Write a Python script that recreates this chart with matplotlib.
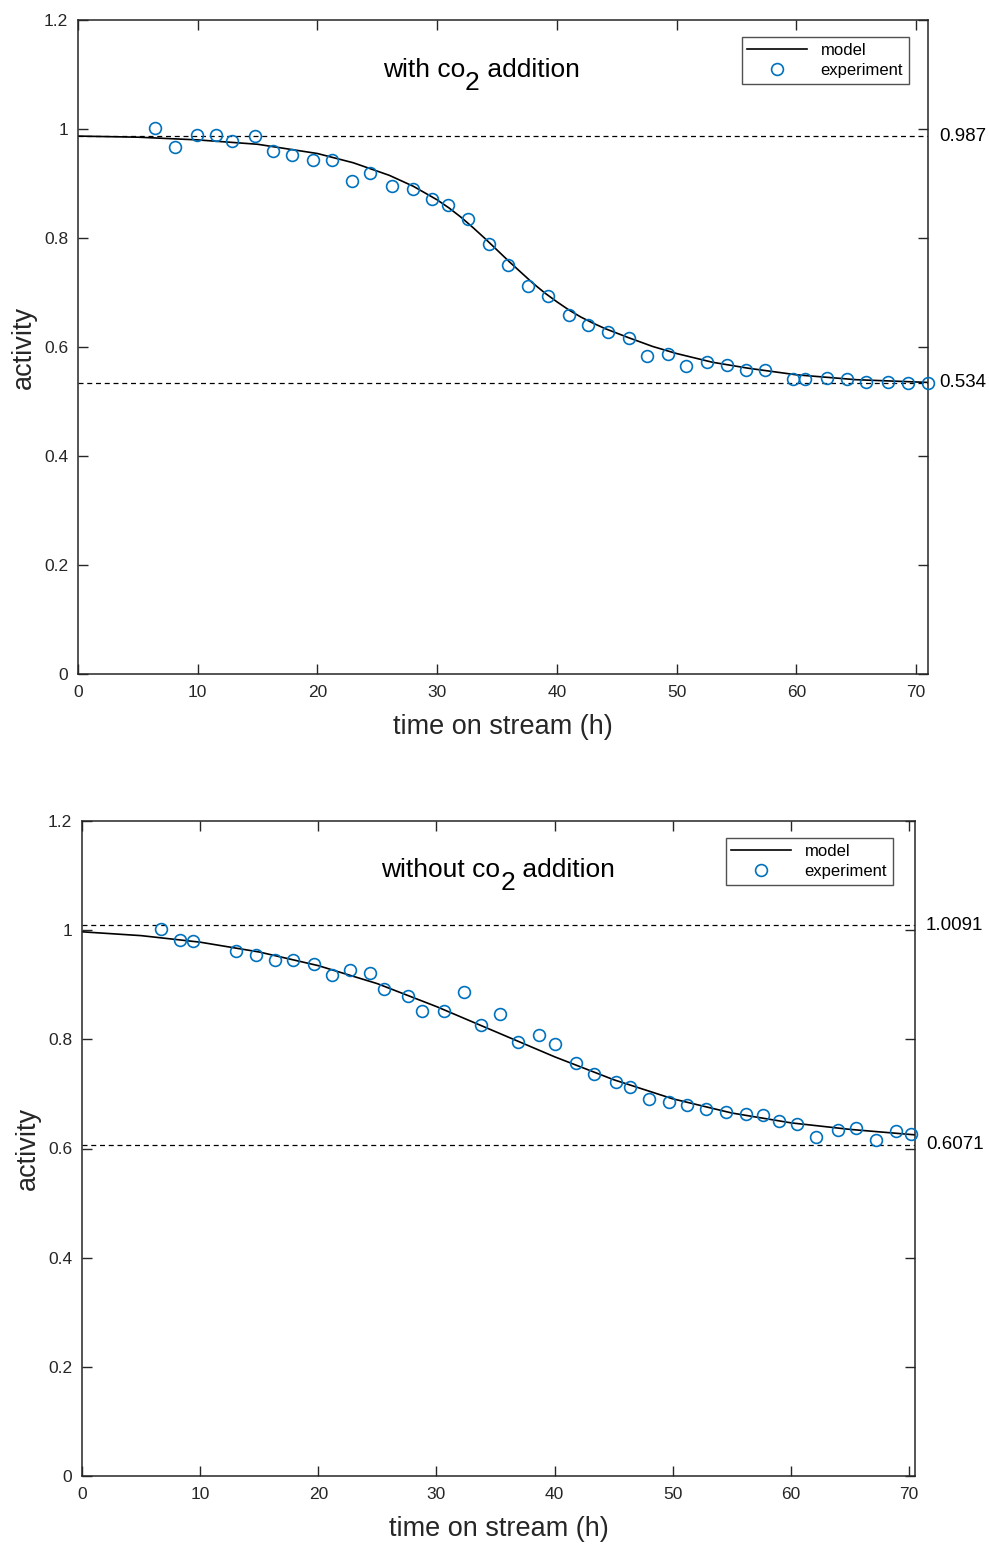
import numpy as np
import matplotlib
matplotlib.use('Agg')
import matplotlib.pyplot as plt
from matplotlib.transforms import offset_copy

plt.rcParams['font.family'] = ['Liberation Sans', 'DejaVu Sans']

BLUE = '#0072BD'
AXC = '#262626'

# with co2 addition
exp1_t = [6.4, 8.1, 9.9, 11.5, 12.9, 14.8, 16.3, 17.9, 19.6, 21.2, 22.9, 24.4, 26.2, 28.0,
          29.6, 30.9, 32.6, 34.3, 35.9, 37.6, 39.3, 41.0, 42.6, 44.3, 46.0, 47.5, 49.3, 50.8,
          52.5, 54.2, 55.8, 57.4, 59.7, 60.7, 62.6, 64.2, 65.8, 67.7, 69.3, 71.0]
exp1_a = [1.002, 0.967, 0.989, 0.989, 0.978, 0.987, 0.960, 0.952, 0.943, 0.943, 0.905, 0.919,
          0.895, 0.890, 0.872, 0.861, 0.835, 0.789, 0.750, 0.712, 0.694, 0.659, 0.640, 0.628,
          0.617, 0.583, 0.587, 0.565, 0.572, 0.567, 0.558, 0.558, 0.541, 0.541, 0.543, 0.541,
          0.536, 0.536, 0.534, 0.534]
model1_t = [0, 5, 10, 15, 20, 23, 26, 28, 30, 31, 32, 33, 34, 35, 36, 37, 38, 39, 40, 41, 42,
            43, 44, 46, 48, 50, 53, 56, 60, 65, 71]
model1_a = [0.987, 0.985, 0.980, 0.972, 0.955, 0.938, 0.915, 0.895, 0.870, 0.855, 0.838, 0.819,
            0.799, 0.778, 0.757, 0.737, 0.717, 0.699, 0.683, 0.668, 0.655, 0.644, 0.634, 0.617,
            0.601, 0.588, 0.572, 0.561, 0.549, 0.540, 0.535]
lim1 = [0.987, 0.534]

# without co2 addition
exp2_t = [6.7, 8.3, 9.4, 13.0, 14.7, 16.3, 17.9, 19.6, 21.2, 22.7, 24.4, 25.6, 27.6, 28.8,
          30.6, 32.3, 33.8, 35.4, 36.9, 38.7, 40.0, 41.8, 43.3, 45.2, 46.4, 48.0, 49.7, 51.2,
          52.8, 54.5, 56.2, 57.6, 59.0, 60.5, 62.1, 64.0, 65.5, 67.2, 68.9, 70.2]
exp2_a = [1.002, 0.982, 0.980, 0.962, 0.955, 0.945, 0.945, 0.938, 0.918, 0.927, 0.922, 0.892,
          0.879, 0.852, 0.852, 0.887, 0.826, 0.846, 0.795, 0.808, 0.791, 0.757, 0.737, 0.722,
          0.713, 0.691, 0.685, 0.680, 0.672, 0.667, 0.663, 0.661, 0.650, 0.645, 0.621, 0.634,
          0.638, 0.616, 0.632, 0.627]
model2_t = [0, 5, 10, 15, 20, 25, 30, 35, 40, 45, 50, 55, 60, 65, 70.5]
model2_a = [0.997, 0.990, 0.978, 0.960, 0.935, 0.902, 0.860, 0.814, 0.768, 0.726, 0.691,
            0.665, 0.647, 0.635, 0.625]
lim2 = [1.0091, 0.6071]

panels = [
    ([78, 20, 928, 674], 71.0, exp1_t, exp1_a, model1_t, model1_a, lim1,
     ['0.987', '0.534'], ('with co', '2', ' addition'), (481, 70), (909, 37)),
    ([82, 821, 915, 1476], 70.5, exp2_t, exp2_a, model2_t, model2_a, lim2,
     ['1.0091', '0.6071'], ('without co', '2', ' addition'), (498, 870), (893, 838)),
]

W, H = 989, 1544
fig = plt.figure(figsize=(W / 100, H / 100), dpi=100)


def sub_title(ax, parts, center, size=19):
    # MATLAB style subscript: full size digit, shifted down
    renderer = fig.canvas.get_renderer()
    widths = []
    for p in parts:
        t = fig.text(0, 0, p, fontsize=size)
        widths.append(t.get_window_extent(renderer).width)
        t.remove()
    x = center[0] - sum(widths) / 2
    y = H - center[1]
    drops = [0, -13, 0]
    for p, w, d in zip(parts, widths, drops):
        fig.text(x / W, (y + d) / H, p, fontsize=size, ha='left', va='center')
        x += w


for box, xmax, et, ea, mt, ma, lim, limlab, title, tpos, legpos in panels:
    x0, y0, x1, y1 = box
    ax = fig.add_axes([x0 / W, 1 - y1 / H, (x1 - x0) / W, (y1 - y0) / H])
    ax.plot(mt, ma, color='black', lw=1.2, label='model')
    ax.plot(et, ea, 'o', mfc='none', mec=BLUE, ms=8.5, mew=1.2, clip_on=False,
            label='experiment', zorder=3)
    for v, s in zip(lim, limlab):
        ax.axhline(v, color='black', lw=0.9, ls=(0, (4, 3)))
        ax.text(1.013, v, s, transform=ax.get_yaxis_transform(), ha='left',
                va='center', fontsize=13.5)
    ax.set_xlim(0, xmax)
    ax.set_ylim(0, 1.2)
    ax.set_xticks(np.arange(0, 71, 10))
    ax.set_yticks(np.arange(0, 1.21, 0.2))
    ax.set_yticklabels(['0', '0.2', '0.4', '0.6', '0.8', '1', '1.2'])
    ax.tick_params(direction='in', top=True, right=True, length=7, width=1,
                   labelsize=12.5, colors=AXC, labelcolor=AXC)
    ax.tick_params(axis='x', pad=8)
    ax.tick_params(axis='y', pad=7)
    for sp in ax.spines.values():
        sp.set_color(AXC)
        sp.set_linewidth(1.1)
    ax.set_xlabel('time on stream (h)', fontsize=19.5, color=AXC, labelpad=10)
    ax.set_ylabel('activity', fontsize=19.5, color=AXC, labelpad=5)
    sub_title(ax, title, tpos)
    leg = ax.legend(loc='upper right', bbox_to_anchor=(legpos[0] / W, 1 - legpos[1] / H),
                    bbox_transform=fig.transFigure, fontsize=12, frameon=True,
                    fancybox=False, edgecolor=AXC, handlelength=3.6, borderpad=0.35,
                    labelspacing=0.3, handletextpad=0.8, borderaxespad=0)
    leg.get_frame().set_linewidth(1.0)

fig.savefig('out.png', dpi=100)
